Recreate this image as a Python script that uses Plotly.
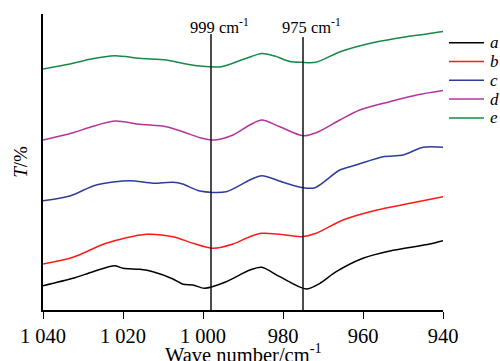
import plotly.graph_objects as go

# Wavenumber (cm-1) and relative transmittance (arbitrary, offset)
wn_a = [1040, 1032.5, 1027.5, 1022.1, 1020, 1015.8, 1012.5, 1007.5, 1005, 1002.5, 999.6, 994.2, 988.3, 985.3, 980.8, 974.2, 970.8, 966.7, 960, 953.3, 943.3, 940]
t_a = [24.3, 31.7, 38.3, 44.3, 41.7, 40.7, 38.3, 31, 25.7, 25, 21.7, 28.3, 40, 42.7, 33.3, 21, 26.7, 38.3, 51.7, 59, 66, 69.3]

wn_b = [1040, 1032.5, 1024.2, 1014.2, 1007.5, 1002.5, 997.5, 992.5, 988.3, 985.3, 980.8, 975.4, 971.7, 965, 956.5, 948.2, 940]
t_b = [46, 52.7, 66.7, 75.7, 73.3, 66.7, 61.7, 66, 73.3, 76.7, 75.7, 73.3, 76.7, 90, 100, 106.7, 113.3]

wn_c = [1040, 1033.3, 1026.7, 1018.3, 1012.5, 1007.5, 1005.1, 1000.8, 994.2, 988.3, 985.3, 980, 975, 972, 965.8, 961.7, 955, 950, 945, 940]
t_c = [109.3, 114, 125, 129.3, 126.7, 127.7, 126, 119, 118.3, 130, 134.3, 127.7, 122.3, 122.3, 140, 145, 153.3, 155, 162.7, 162.7]

wn_d = [1040, 1032.5, 1028.3, 1022.1, 1015.8, 1009.2, 1005, 1000.8, 997.1, 992.5, 988.3, 985.3, 980.8, 975, 971.7, 965.8, 960.8, 953.3, 946.6, 940]
t_d = [170, 177.3, 182.7, 189, 185.7, 183.3, 178.3, 172.3, 170, 175, 185, 190, 183.3, 174.3, 177.3, 190, 200, 208.3, 215, 219.5]

wn_e = [1040, 1032.5, 1028.3, 1022.1, 1015.8, 1009.2, 1005.1, 1000.8, 995.4, 989.2, 985.3, 982.1, 978.3, 975.3, 971.8, 965.7, 957.6, 949.1, 944.1, 940]
t_e = [241, 246.7, 250.7, 254.3, 251.7, 250, 246.7, 244, 243.3, 251.7, 256.5, 254, 248.5, 247.7, 247.7, 258.3, 267.3, 273.3, 276, 278.5]

names = ["a", "b", "c", "d", "e"]
colors = ["#000000", "#ff1a1a", "#2e3d9c", "#b4349f", "#16894a"]

tick_vals = [1040, 1020, 1000, 980, 960, 940]
tick_text = ["1 040", "1 020", "1 000", "980", "960", "940"]

marker_lines = [998, 975]
marker_labels = ["999 cm<sup>-1</sup>", "975 cm<sup>-1</sup>"]
marker_tops = [276, 273]

x_title = "Wave number/cm<sup>-1</sup>"
y_title = "<i>T</i>/%"

FONT = "Liberation Serif"

fig = go.Figure()
series = [(wn_a, t_a), (wn_b, t_b), (wn_c, t_c), (wn_d, t_d), (wn_e, t_e)]
for (x, y), n, c in zip(series, names, colors):
    fig.add_trace(go.Scatter(x=x, y=y, mode="lines", name=n, showlegend=False,
                             line=dict(color=c, width=1.5, shape="spline", smoothing=0.8)))

# Legend drawn beside the plot (paper coords of the plot area)
leg_x0, leg_x1, leg_y0, leg_dy = 1.015, 1.1025, 0.903, 0.0635
for i, (n, c) in enumerate(zip(names, colors)):
    yy = leg_y0 - i * leg_dy
    fig.add_shape(type="line", xref="paper", yref="paper", x0=leg_x0, x1=leg_x1, y0=yy, y1=yy,
                  line=dict(color=c, width=1.5))
    fig.add_annotation(xref="paper", yref="paper", x=leg_x1 + 0.01, y=yy, text=f"<i>{n}</i>",
                       showarrow=False, xanchor="left", yanchor="middle",
                       font=dict(family=FONT, size=17, color="black"))

for xv, lab, top in zip(marker_lines, marker_labels, marker_tops):
    fig.add_shape(type="line", x0=xv, x1=xv, y0=0, y1=top, xref="x", yref="y",
                  line=dict(color="#111111", width=1.5))
    fig.add_annotation(x=xv, y=0.917, xref="x", yref="paper", text=lab, showarrow=False,
                       xanchor="center", yanchor="bottom", xshift=8,
                       font=dict(family=FONT, size=16.5, color="black"))

# x-axis title (near the bottom edge of the window, as in the reference)
fig.add_annotation(x=0.5, y=-0.096, xref="paper", yref="paper", text=x_title, showarrow=False,
                   xanchor="center", yanchor="top",
                   font=dict(family=FONT, size=20.5, color="black"))

fig.update_layout(
    width=500, height=361,
    margin=dict(l=43, r=57, t=14, b=51),
    paper_bgcolor="white", plot_bgcolor="white",
    font=dict(family=FONT, size=18, color="black"),
    showlegend=False,
    xaxis=dict(range=[1040, 940], tickvals=tick_vals, ticktext=tick_text, automargin=False,
               showgrid=False, zeroline=False, showline=True, linecolor="black", linewidth=1.5,
               ticks="outside", ticklen=7, tickwidth=1.3, tickcolor="black",
               tickfont=dict(family=FONT, size=20.5, color="black")),
    yaxis=dict(range=[0, 296], showticklabels=False, ticks="", showgrid=False, zeroline=False,
               automargin=False, showline=True, linecolor="black", linewidth=1.5,
               title=dict(text=y_title, standoff=9,
                          font=dict(family=FONT, size=19, color="black"))),
)

# remove the browser's default page margin so the 500x361 figure fills the window exactly
fig.write_html("out.html", config={"displayModeBar": False},
               post_script="document.body.style.margin='0';document.body.style.overflow='hidden';")
